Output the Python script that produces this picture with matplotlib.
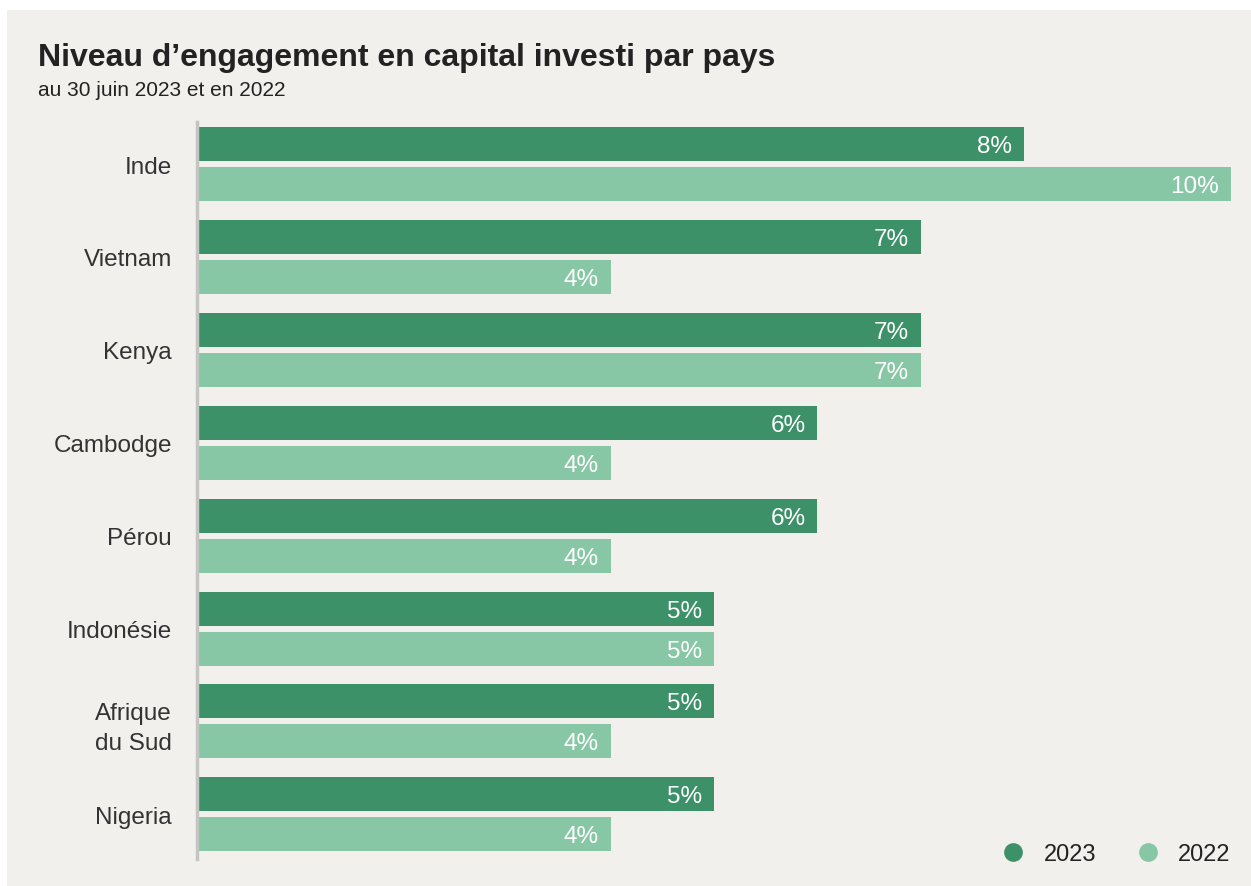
import matplotlib.pyplot as plt
from matplotlib.patches import Rectangle
from matplotlib.lines import Line2D

plt.rcParams['font.family'] = ['Liberation Sans', 'DejaVu Sans']

countries = ["Inde", "Vietnam", "Kenya", "Cambodge", "Pérou", "Indonésie",
             "Afrique\ndu Sud", "Nigeria"]
values_2023 = [8, 7, 7, 6, 6, 5, 5, 5]
values_2022 = [10, 4, 7, 4, 4, 5, 4, 4]
series_labels = ["2023", "2022"]

dark_green = "#3d9169"
light_green = "#88c7a5"
panel_bg = "#f1f0ec"
text_col = "#222222"
label_col = "#333333"

W, H = 1251, 887
fig = plt.figure(figsize=(W / 100, H / 100), dpi=100)
fig.patch.set_facecolor("white")

# light panel behind everything
fig.patches.append(Rectangle((7 / W, 0), (W - 7) / W, (H - 11) / H,
                             transform=fig.transFigure, facecolor=panel_bg,
                             edgecolor="none", zorder=-10))

fig.text(38 / W, 1 - 66 / H, "Niveau d’engagement en capital investi par pays",
         fontsize=23, fontweight="bold", color=text_col, va="baseline")
fig.text(38 / W, 1 - 96 / H, "au 30 juin 2023 et en 2022",
         fontsize=15, color=text_col, va="baseline")

ax_left, ax_right = 197, 1231
ax_top, ax_bottom = 123, 860
ax = fig.add_axes([ax_left / W, 1 - ax_bottom / H, (ax_right - ax_left) / W,
                   (ax_bottom - ax_top) / H])
ax.set_facecolor("none")

pitch = 92.9
bar_h = 34 / pitch
off = 20 / pitch
n = len(countries)
ys = list(range(n))

ax.barh([y - off for y in ys], values_2023, height=bar_h, color=dark_green)
ax.barh([y + off for y in ys], values_2022, height=bar_h, color=light_green)

ax.set_xlim(0, 10)
ax.set_ylim((ax_bottom - 165) / pitch, (ax_top - 165) / pitch)

for y, v in zip(ys, values_2023):
    ax.annotate(f"{v}%", (v, y - off), xytext=(-8.5, -1.5), textcoords="offset points",
                ha="right", va="center", color="white", fontsize=17.5)
for y, v in zip(ys, values_2022):
    ax.annotate(f"{v}%", (v, y + off), xytext=(-8.5, -1.5), textcoords="offset points",
                ha="right", va="center", color="white", fontsize=17.5)

ax.set_yticks(ys)
ax.set_yticklabels(countries, fontsize=17.5, color=label_col, linespacing=1.45)
ax.tick_params(axis="y", length=0, pad=18)
ax.set_xticks([])
for s in ["top", "right", "bottom"]:
    ax.spines[s].set_visible(False)
ax.spines["left"].set_color("#c4c4c2")
ax.spines["left"].set_linewidth(2.5)

handles = [Line2D([], [], marker="o", linestyle="none", markersize=13.5,
                  markerfacecolor=c, markeredgecolor="none")
           for c in (dark_green, light_green)]
leg = fig.legend(handles, series_labels, loc="center right",
                 bbox_to_anchor=(1252 / W, 1 - 855 / H), ncol=2, frameon=False,
                 fontsize=17, handletextpad=0.8, columnspacing=1.66,
                 handlelength=1.0)
for t in leg.get_texts():
    t.set_color(text_col)

fig.savefig("out.png", dpi=100, facecolor=fig.get_facecolor())
